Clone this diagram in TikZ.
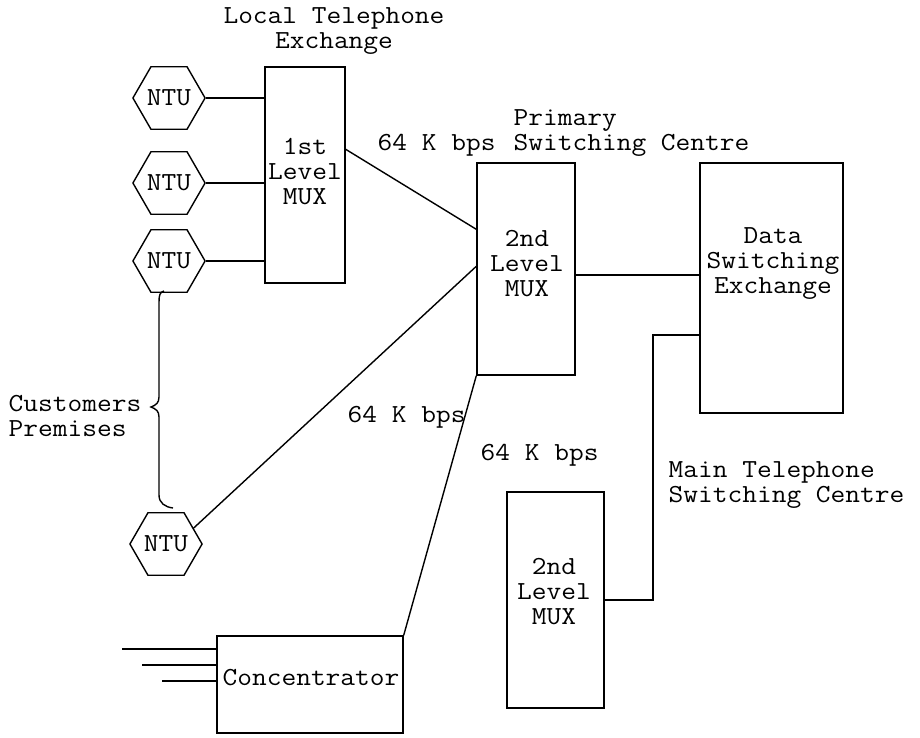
\documentclass[tikz,border=0pt]{standalone}
\usepackage{fontspec}
\setmonofont[FakeStretch=1.1]{Latin Modern Mono}
\usetikzlibrary{shapes.geometric,calc}
\begin{document}
\begin{tikzpicture}[x=1pt,y=-1pt,line width=1.4pt,
  every node/.style={font=\ttfamily\fontsize{26}{25}\selectfont, inner sep=0pt},
  boxnode/.style={draw, rectangle, line width=1.4pt},
  hexnode/.style={draw, regular polygon, regular polygon sides=6, minimum size=70pt, line width=1.4pt},
  lbl/.style={align=left, anchor=west},
  lblc/.style={align=center}]
\useasboundingbox (0,0) rectangle (920,737);

% boxes
\node[boxnode, minimum width=80pt, minimum height=216pt] (mux1) at (305,175) {};
\node[lblc] (mux1t) at (305,172) {1st\\Level\\MUX};
\node[boxnode, minimum width=98pt, minimum height=212pt] (mux2) at (526,269) {};
\node[lblc] (mux2t) at (527,264) {2nd\\Level\\MUX};
\node[boxnode, minimum width=143pt, minimum height=250pt] (dse) at (771.5,288) {};
\node[lblc] (dset) at (773,264) {Data\\Switching\\Exchange};
\node[boxnode, minimum width=97pt, minimum height=216pt] (mux3) at (555.5,600) {};
\node[lblc] (mux3t) at (554,592) {2nd\\Level\\MUX};
\node[boxnode, minimum width=186pt, minimum height=97pt] (conc) at (310,684.5) {};
\node (conct) at (311,678) {Concentrator};

% NTUs
\node[hexnode] (ntu1) at (169,98) {NTU};
\node[hexnode] (ntu2) at (169,183) {NTU};
\node[hexnode] (ntu3) at (169,261) {NTU};
\node[hexnode] (ntu4) at (166,544) {NTU};

% labels
\node[lblc] (lte) at (334,31) {Local Telephone\\Exchange};
\node[lbl] (psc) at (513,133) {Primary\\Switching Centre};
\node[lbl] (bps1) at (377,145) {64 K bps};
\node[lbl] (cust) at (8,416) {Customers\\Premises};
\node[lbl] (bps2) at (347,417) {64 K bps};
\node[lbl] (bps3) at (480,455) {64 K bps};
\node[lbl] (mtsc) at (668,485) {Main Telephone\\Switching Centre};

% connectors NTU -> 1st level MUX
\draw (ntu1.east) -- (ntu1.east -| mux1.west);
\draw (ntu2.east) -- (ntu2.east -| mux1.west);
\draw (ntu3.east) -- (ntu3.east -| mux1.west);

% 1st MUX -> 2nd MUX
\draw ([yshift=-83pt]mux1.north east) -- ([yshift=-67pt]mux2.north west);
% NTU4 -> 2nd MUX
\draw (ntu4.30) -- ([yshift=-104pt]mux2.north west);
% 2nd MUX -> concentrator
\draw (mux2.south west) -- (conc.north east);
% 2nd MUX -> DSE
\draw ([yshift=-6pt]mux2.east) -- ([yshift=-6pt]mux2.east -| dse.west);
% 2nd MUX (main) -> DSE
\coordinate (mt) at (653,335);
\draw (mux3.east) -| (mt) -- (mt -| dse.west);

% concentrator inputs
\coordinate (in1) at (122,649);
\coordinate (in2) at (142,665);
\coordinate (in3) at (162,681);
\draw (in1) -- (in1 -| conc.west);
\draw (in2) -- (in2 -| conc.west);
\draw (in3) -- (in3 -| conc.west);

% brace
\draw (164,291) .. controls (160,292) and (159,295) .. (159,302)
  -- (159,397) .. controls (159,403) and (156,405) .. (151,407)
  .. controls (156,409) and (159,411) .. (159,417)
  -- (159,495) .. controls (159,503) and (165,507) .. (173,508);
\end{tikzpicture}
\end{document}
